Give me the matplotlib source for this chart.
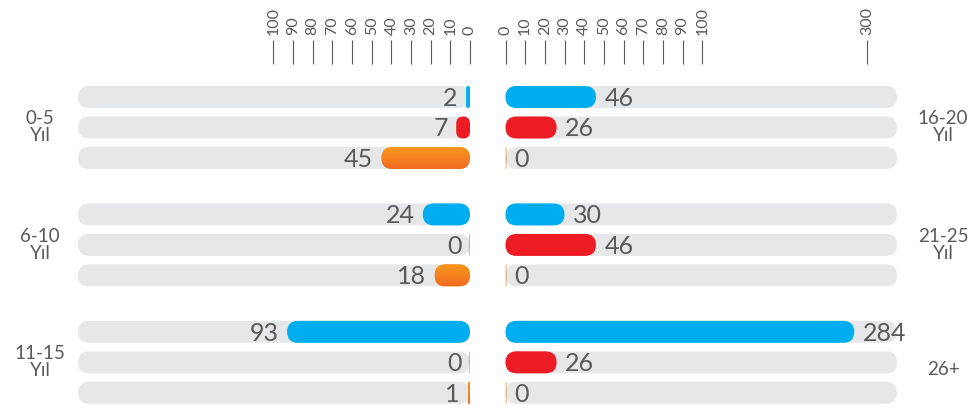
"""Rounded horizontal bar chart, two mirrored panels."""
import matplotlib
matplotlib.use('Agg')
import matplotlib.pyplot as plt
import numpy as np
from matplotlib.patches import FancyBboxPatch, BoxStyle
from matplotlib.transforms import IdentityTransform, blended_transform_factory
from matplotlib.colors import LinearSegmentedColormap

plt.rcParams['font.family'] = ['Lato', 'DejaVu Sans']

# data
left_groups = ['0-5\nYıl', '6-10\nYıl', '11-15\nYıl']
left_blue = [2, 24, 93]
left_red = [7, 0, 0]
left_orange = [45, 18, 1]

right_groups = ['16-20\nYıl', '21-25\nYıl', '26+']
right_blue = [46, 30, 284]
right_red = [26, 46, 26]
right_orange = [0, 0, 0]

left_ticks = list(range(0, 101, 10))
right_ticks = list(range(0, 101, 10)) + [300]

BLUE = '#00AEEF'
RED = '#ED1C24'
ORANGE = '#F58220'
ORANGE_TOP = '#F8991D'
ORANGE_BOT = '#F26B21'
TRACK = '#E6E7E8'
TEXT = '#58595B'

W, H = 973, 409
fig = plt.figure(figsize=(W / 100, H / 100), dpi=100)


def px_rect(l, r, top, bottom):
    return [l / W, 1 - bottom / H, (r - l) / W, (bottom - top) / H]


ax_l = fig.add_axes(px_rect(78, 470, 64, 409))
ax_r = fig.add_axes(px_rect(505.5, 897, 64, 409))

# right panel: linear up to 100, compressed above
K = 0.42


def fwd(x):
    x = np.asarray(x, float)
    return np.where(x <= 100, x, 100 + (x - 100) * K)


def inv(t):
    t = np.asarray(t, float)
    return np.where(t <= 100, t, 100 + (t - 100) / K)


ax_r.set_xscale('function', functions=(fwd, inv))
ax_l.set_xlim(199.3, 0)
ax_r.set_xlim(0, float(inv(199.0)))

GROUP_STEP = 3.85
ROW_H = 30.5  # px per row unit
BAR_PX = 22
for ax in (ax_l, ax_r):
    ax.set_ylim(10.23, -1.082)
    ax.set_autoscale_on(False)
    ax.xaxis.tick_top()
    ax.set_yticks([])
    for s in ax.spines.values():
        s.set_visible(False)
    ax.patch.set_visible(False)
    ax.set_zorder(3)
    ax.tick_params(axis='x', length=17, width=0.8, color=TEXT, labelcolor=TEXT,
                   labelsize=11.5, labelrotation=90, pad=4)
ax_l.set_xticks(left_ticks)
ax_r.set_xticks(right_ticks)


def rbar(ax, v, y, color, zorder, minw=0.0, alpha=1.0):
    """Rounded bar from 0 to v, drawn in pixels via the axes transform."""
    z0, yc = ax.transData.transform((0, y))
    z1, _ = ax.transData.transform((v, y))
    lo, hi = min(z0, z1), max(z0, z1)
    w = hi - lo
    if w < minw:
        w = minw
        lo = z0 - w if z1 < z0 or ax.xaxis_inverted() else z0
    r = min(BAR_PX / 2, w / 2)
    p = FancyBboxPatch((lo, yc - BAR_PX / 2), w, BAR_PX,
                       boxstyle=BoxStyle.Round(pad=0, rounding_size=r),
                       transform=IdentityTransform(), fc=color, ec='none',
                       zorder=zorder, alpha=alpha)
    fig.add_artist(p)
    return p


orange_cmap = LinearSegmentedColormap.from_list('og', [ORANGE_TOP, ORANGE_BOT])
grad = np.linspace(0, 1, 64).reshape(-1, 1)
hd = BAR_PX / ROW_H


def draw_panel(ax, groups, blue, red, orange, side):
    vmax = ax.get_xlim()[0] if side == 'left' else ax.get_xlim()[1]
    sign = -1 if side == 'left' else 1
    for g in range(len(groups)):
        for r, (vals, color) in enumerate([(blue, BLUE), (red, RED), (orange, ORANGE)]):
            y = g * GROUP_STEP + r
            v = vals[g]
            rbar(ax, vmax, y, TRACK, 1)
            if v == 0:
                rbar(ax, v, y, color, 2, minw=1.2, alpha=0.35 if color == RED else 0.6)
            else:
                p = rbar(ax, v, y, color, 2, minw=2)
                if color == ORANGE and side == 'left':
                    im = ax.imshow(grad, cmap=orange_cmap, aspect='auto', origin='upper',
                                   extent=(0, v, y + hd / 2, y - hd / 2), zorder=1)
                    im.set_clip_path(p)
            ax.annotate(str(v), xy=(v, y), xytext=(sign * 6, -1), textcoords='offset points',
                        ha='right' if side == 'left' else 'left', va='center',
                        fontsize=18, color=TEXT)


draw_panel(ax_l, left_groups, left_blue, left_red, left_orange, 'left')
draw_panel(ax_r, right_groups, right_blue, right_red, right_orange, 'right')
ax_l.set_xlim(199.3, 0)
ax_l.set_ylim(10.23, -1.082)

# group labels
tl = blended_transform_factory(fig.transFigure, ax_l.transData)
for g, lab in enumerate(left_groups):
    fig.text(40 / W, g * GROUP_STEP + 1, lab, transform=tl, ha='center', va='center',
             fontsize=13.5, color=TEXT, linespacing=1.0)
for g, lab in enumerate(right_groups):
    dy = 0.22 if '\n' not in lab else 0
    fig.text(943 / W, g * GROUP_STEP + 1 + dy, lab, transform=tl, ha='center', va='center',
             fontsize=13.5, color=TEXT, linespacing=1.0)

fig.savefig('out.png', dpi=100)
plt.close(fig)
